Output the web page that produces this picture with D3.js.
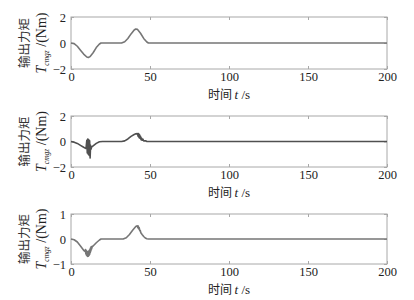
<!DOCTYPE html>
<html><head><meta charset="utf-8">
<script src="https://cdn.jsdelivr.net/npm/d3@7"></script>
<style>body{margin:0;background:#fff}svg{display:block}</style>
</head><body><svg id="c" width="414" height="300"></svg>
<script>
// ---- data ----
const xTicks = [0, 50, 100, 150, 200];
const yTicks1 = [-2, 0, 2];
const yTicks2 = [-2, 0, 2];
const yTicks3 = [-1, 0, 1];
const yDomain1 = [-2, 2], yDomain2 = [-2, 2], yDomain3 = [-1, 1];

const t1 = [0, 2, 4, 6, 8, 10, 11, 12, 14, 16, 18, 19, 20, 32, 34, 36, 38, 40, 41, 42, 44, 46, 48, 49, 50, 200];
const v1 = [0, -0.05, -0.25, -0.55, -0.85, -1.08, -1.12, -1.05, -0.75, -0.35, -0.08, 0, 0, 0, 0.1, 0.35, 0.7, 1.0, 1.08, 1.05, 0.75, 0.35, 0.08, 0, 0, 0];

const t2 = [0, 2, 4, 6, 8, 9.5, 10, 10.3, 10.6, 10.9, 11.2, 11.5, 11.8, 12.1, 12.4, 12.7, 13, 14, 16, 18, 20, 32, 34, 36, 38, 40, 41, 42, 42.5, 42.8, 43.1, 43.4, 43.7, 44, 44.3, 44.6, 45, 45.5, 46, 47, 48, 49, 200];
const v2 = [0, -0.05, -0.15, -0.3, -0.45, -0.55, 0.1, -0.9, 0.2, -1.0, 0.15, -1.1, 0.05, -1.3, -0.3, -0.6, -0.45, -0.35, -0.15, -0.02, 0, 0, 0.05, 0.2, 0.4, 0.55, 0.6, 0.62, 0.4, 0.62, 0.3, 0.52, 0.25, 0.4, 0.15, 0.28, 0.1, 0.18, 0.05, 0.05, 0.01, 0, 0];

const t3 = [0, 2, 4, 6, 8, 9, 9.2, 9.4, 9.6, 9.8, 10, 10.2, 10.4, 10.6, 10.8, 11, 11.2, 11.4, 11.6, 11.8, 12, 12.2, 12.4, 12.6, 12.8, 13, 13.5, 14, 16, 18, 19, 33, 35, 37, 39, 41, 42, 42.3, 42.6, 42.9, 43.2, 43.5, 43.8, 44.2, 45, 46, 47, 48, 49, 200];
const v3 = [0, -0.03, -0.12, -0.28, -0.45, -0.5, -0.42, -0.6, -0.45, -0.65, -0.48, -0.68, -0.5, -0.7, -0.5, -0.69, -0.48, -0.66, -0.45, -0.62, -0.4, -0.55, -0.35, -0.48, -0.3, -0.4, -0.3, -0.28, -0.15, -0.04, 0, 0, 0.05, 0.18, 0.35, 0.5, 0.53, 0.45, 0.52, 0.4, 0.45, 0.33, 0.35, 0.25, 0.18, 0.1, 0.04, 0.01, 0, 0];

const xLabelCN = "时间";
const yLabelCN = "输出力矩";

// ---- layout ----
const svg = d3.select("#c");
const left = 71, right = 387;
const panels = [
  {top: 17, bottom: 69, t: t1, v: v1, dom: yDomain1, ticks: yTicks1, color: "#767676"},
  {top: 116, bottom: 167, t: t2, v: v2, dom: yDomain2, ticks: yTicks2, color: "#505050"},
  {top: 214, bottom: 264, t: t3, v: v3, dom: yDomain3, ticks: yTicks3, color: "#767676"}
];
const x = d3.scaleLinear().domain([0, 200]).range([left, right]);
const numFont = "'Liberation Serif','DejaVu Serif',serif";
const cnFont = "'Noto Sans CJK SC',sans-serif";

panels.forEach(p => {
  const y = d3.scaleLinear().domain(p.dom).range([p.bottom, p.top]);
  const g = svg.append("g");
  g.append("rect").attr("x", left).attr("y", p.top).attr("width", right - left).attr("height", p.bottom - p.top)
    .attr("fill", "none").attr("stroke", "#a8a8a8").attr("stroke-width", 1);
  const xb = g.append("g").attr("transform", `translate(0,${p.bottom})`)
    .call(d3.axisBottom(x).tickValues(xTicks).tickSizeInner(-3).tickSizeOuter(0).tickPadding(3).tickFormat(d3.format("d")));
  xb.select(".domain").remove();
  xb.selectAll("line").attr("stroke", "#a8a8a8");
  xb.selectAll("text").attr("font-family", numFont).attr("font-size", 12.5).attr("fill", "#222");
  const xt = g.append("g").attr("transform", `translate(0,${p.top})`)
    .call(d3.axisTop(x).tickValues(xTicks).tickSizeInner(-3).tickSizeOuter(0).tickFormat(""));
  xt.select(".domain").remove();
  xt.selectAll("line").attr("stroke", "#a8a8a8");
  const yl = g.append("g").attr("transform", `translate(${left},0)`)
    .call(d3.axisLeft(y).tickValues(p.ticks).tickSizeInner(-3).tickSizeOuter(0).tickPadding(5)
      .tickFormat(d => d < 0 ? "\u2212" + Math.abs(d) : d));
  yl.select(".domain").remove();
  yl.selectAll("line").attr("stroke", "#a8a8a8");
  yl.selectAll("text").attr("font-family", numFont).attr("font-size", 12.5).attr("fill", "#222");
  const yr = g.append("g").attr("transform", `translate(${right},0)`)
    .call(d3.axisRight(y).tickValues(p.ticks).tickSizeInner(-3).tickSizeOuter(0).tickFormat(""));
  yr.select(".domain").remove();
  yr.selectAll("line").attr("stroke", "#a8a8a8");
  const pts = p.t.map((t, i) => [t, p.v[i]]);
  g.append("path").datum(pts)
    .attr("d", d3.line().x(d => x(d[0])).y(d => y(d[1])))
    .attr("fill", "none").attr("stroke", p.color).attr("stroke-width", 1.6).attr("stroke-linejoin", "round");
  const xl = g.append("text").attr("x", 229).attr("y", p.bottom + 30).attr("text-anchor", "middle")
    .attr("fill", "#222").attr("font-size", 12);
  xl.append("tspan").attr("font-family", cnFont).text(xLabelCN + " ");
  xl.append("tspan").attr("font-family", numFont).attr("font-style", "italic").attr("font-size", 13).text("t");
  xl.append("tspan").attr("font-family", numFont).attr("font-size", 13).text(" /s");
  const cy = (p.top + p.bottom) / 2;
  g.append("text").attr("transform", `translate(29,${cy}) rotate(-90)`).attr("text-anchor", "middle")
    .attr("font-family", cnFont).attr("font-size", 12.5).attr("fill", "#333").text(yLabelCN);
  const y2 = g.append("text").attr("transform", `translate(46,${cy}) rotate(-90)`).attr("text-anchor", "middle")
    .attr("font-family", numFont).attr("font-size", 14).attr("fill", "#222");
  y2.append("tspan").attr("font-style", "italic").text("T");
  y2.append("tspan").attr("font-size", 7.5).attr("font-style", "italic").attr("dy", 3).text("cmgz");
  y2.append("tspan").attr("dy", -3).text(" /(Nm)");
});
</script></body></html>
